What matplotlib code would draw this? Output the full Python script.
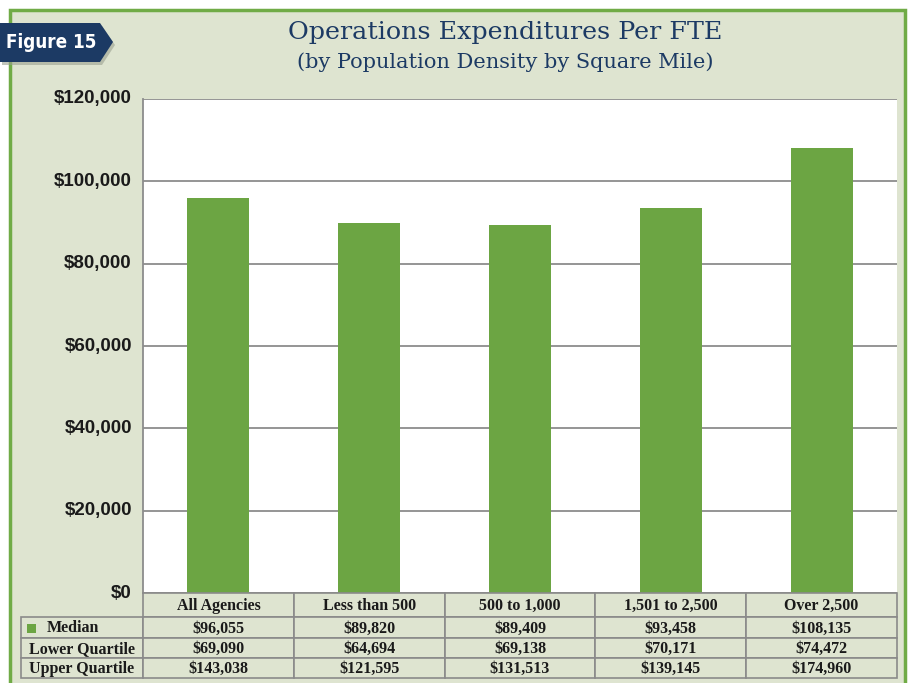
import matplotlib.pyplot as plt
from matplotlib.patches import Rectangle, Polygon
import numpy as np

# data
categories = ["All Agencies", "Less than 500", "500 to 1,000", "1,501 to 2,500", "Over 2,500"]
median = [96055, 89820, 89409, 93458, 108135]
lower_quartile = [69090, 64694, 69138, 70171, 74472]
upper_quartile = [143038, 121595, 131513, 139145, 174960]
row_names = ["Median", "Lower Quartile", "Upper Quartile"]
yticks = [0, 20000, 40000, 60000, 80000, 100000, 120000]

W, H = 908, 683
GREEN = "#6ca543"
PANEL = "#dee4d0"
NAVY = "#1c3a64"
GRID = "#8c8c8c"


def px(x, y):
    # pixel coords (top-left origin) -> figure fraction
    return x / W, 1 - y / H


fig = plt.figure(figsize=(W / 100, H / 100), dpi=100)
fig.patch.set_facecolor("white")

# background panel with green border
x0, y0 = px(10, 10)
x1, y1 = px(905, 690)
fig.add_artist(Rectangle((x0, y1), x1 - x0, y0 - y1, transform=fig.transFigure,
                         facecolor=PANEL, edgecolor="#70ab46", linewidth=2.5, zorder=0))

# figure badge
pts = [px(0, 23), px(100, 23), px(113, 42), px(100, 62), px(0, 62)]
shadow = [(a + 2 / W, b - 3 / H) for a, b in pts]
fig.add_artist(Polygon(shadow, closed=True, transform=fig.transFigure,
                       facecolor="#9aa090", edgecolor="none", alpha=0.6, zorder=1))
fig.add_artist(Polygon(pts, closed=True, transform=fig.transFigure,
                       facecolor=NAVY, edgecolor="none", zorder=2))
fig.text(*px(51, 43), "Figure 15", color="white", fontsize=13.5, fontweight="bold",
         family="DejaVu Sans", stretch="condensed",
         ha="center", va="center", zorder=3)

# titles
fig.text(*px(505, 33), "Operations Expenditures Per FTE", color=NAVY, fontsize=18.3,
         family="DejaVu Serif", ha="center", va="center")
fig.text(*px(505, 62), "(by Population Density by Square Mile)", color=NAVY, fontsize=15,
         family="DejaVu Serif", ha="center", va="center")

# chart
left, top = px(143, 99)
right, bottom = px(897, 593)
ax = fig.add_axes([left, bottom, right - left, top - bottom])
ax.set_facecolor("white")
xpos = np.arange(len(categories))
ax.bar(xpos, median, width=0.41, color=GREEN, zorder=3)
ax.set_xlim(-0.5, len(categories) - 0.5)
ax.set_ylim(0, 120000)
ax.set_yticks(yticks)
ax.set_yticklabels(["${:,.0f}".format(v) for v in yticks],
                   fontsize=13.5, fontweight="bold", family="Liberation Sans", color="#1a1a1a")
ax.tick_params(axis="y", length=0, pad=8)
for lbl in ax.get_yticklabels():
    lbl.set_verticalalignment("center")
    lbl.set_y(lbl.get_position()[1])
ax.set_xticks([])
ax.grid(axis="y", color=GRID, linewidth=1.3, zorder=0)
for s in ["top", "right", "bottom"]:
    ax.spines[s].set_visible(False)
ax.spines["left"].set_color(GRID)
ax.spines["left"].set_linewidth(1.3)

# data table below the chart
tfont = dict(family="Liberation Serif", fontsize=11.5, color="#1a1a1a", fontweight="bold")
row_edges = [593, 617, 638, 658, 678]
col_w = (897 - 143) / len(categories)
col_edges = [143 + i * col_w for i in range(len(categories) + 1)]
label_left = 21


def cell(xa, ya, xb, yb):
    a, b = px(xa, yb)
    c, d = px(xb, ya)
    fig.add_artist(Rectangle((a, b), c - a, d - b, transform=fig.transFigure,
                             facecolor=PANEL, edgecolor="#8a8a8a", linewidth=1.2, zorder=4))


# header row
for i, name in enumerate(categories):
    cell(col_edges[i], row_edges[0], col_edges[i + 1], row_edges[1])
    fig.text(*px((col_edges[i] + col_edges[i + 1]) / 2, (row_edges[0] + row_edges[1]) / 2 + 1),
             name, ha="center", va="center", zorder=5, **tfont)

rows = [median, lower_quartile, upper_quartile]
for r, (rname, vals) in enumerate(zip(row_names, rows)):
    ya, yb = row_edges[r + 1], row_edges[r + 2]
    ym = (ya + yb) / 2 + 1
    cell(label_left, ya, col_edges[0], yb)
    if r == 0:
        sa, sb = px(27, ym + 4)
        fig.add_artist(Rectangle((sa, sb), 9 / W, 9 / H, transform=fig.transFigure,
                                 facecolor=GREEN, edgecolor="none", zorder=6))
        fig.text(*px(73, ym), rname, ha="center", va="center", zorder=5, **tfont)
    else:
        fig.text(*px((label_left + col_edges[0]) / 2, ym), rname,
                 ha="center", va="center", zorder=5, **tfont)
    for i, v in enumerate(vals):
        cell(col_edges[i], ya, col_edges[i + 1], yb)
        fig.text(*px((col_edges[i] + col_edges[i + 1]) / 2, ym), "${:,.0f}".format(v),
                 ha="center", va="center", zorder=5, **tfont)

fig.savefig("out.png", dpi=100, facecolor=fig.get_facecolor())
